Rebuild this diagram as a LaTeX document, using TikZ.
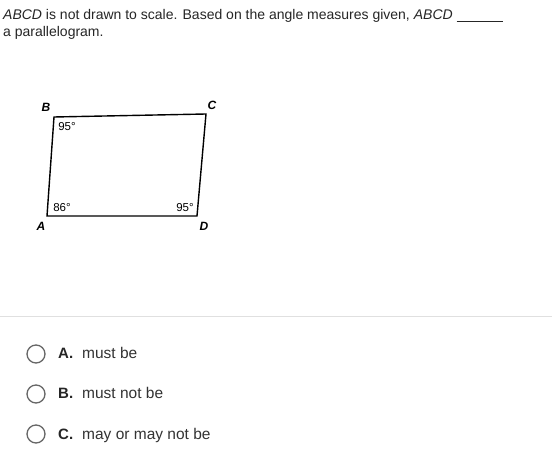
\documentclass[tikz,border=0pt]{standalone}
\usepackage{fontspec}
\setmainfont{Liberation Sans}
\begin{document}
\begin{tikzpicture}[x=1pt,y=-1pt,
  q/.style={anchor=base west,inner sep=0pt,font=\fontsize{14}{16}\selectfont,text=black!85},
  vl/.style={inner sep=0pt,font=\fontsize{12}{14}\selectfont\bfseries\itshape},
  al/.style={inner sep=0pt,font=\fontsize{11.5}{13}\selectfont},
  radio/.style={circle,draw=black!60,line width=1.3pt,minimum size=18pt,inner sep=0pt},
  optl/.style={anchor=base west,inner sep=0pt,font=\fontsize{15}{17}\selectfont\bfseries,text=black!85},
  opt/.style={anchor=base west,inner sep=0pt,font=\fontsize{15.5}{17}\selectfont,text=black!80}]
\useasboundingbox[fill=white] (0,0) rectangle (560,462);
\node[q] (t1) at (3,20) {\textit{ABCD} is not drawn to scale. Based on the angle measures given, \textit{ABCD} \underline{\hspace{46pt}}};
\node[q] (t2) at (3,37) {a parallelogram.};
\coordinate (A) at (47,216);
\coordinate (B) at (54,117);
\coordinate (C) at (206,114);
\coordinate (D) at (197,216);
\draw[line width=1.4pt,line join=miter] (A) -- (B) -- (C) -- (D) -- cycle;
\node[vl] (lA) at (41,226) {A};
\node[vl] (lB) at (46,107) {B};
\node[vl] (lC) at (212,105) {C};
\node[vl] (lD) at (204,226) {D};
\node[al] (aB) at (67,127) {95°};
\node[al] (aA) at (62,208) {86°};
\node[al] (aD) at (185,208) {95°};
\draw[black!12,line width=0.8pt] (0,316) -- (552,316);
\node[radio] (rA) at (36,354) {};
\node[radio] (rB) at (36,394) {};
\node[radio] (rC) at (36,434) {};
\node[optl] (kA) at (58,359) {A.};
\node[optl] (kB) at (58,399) {B.};
\node[optl] (kC) at (58,439) {C.};
\node[opt] (oA) at (82,359) {must be};
\node[opt] (oB) at (82,399) {must not be};
\node[opt] (oC) at (82,439) {may or may not be};
\end{tikzpicture}
\end{document}
